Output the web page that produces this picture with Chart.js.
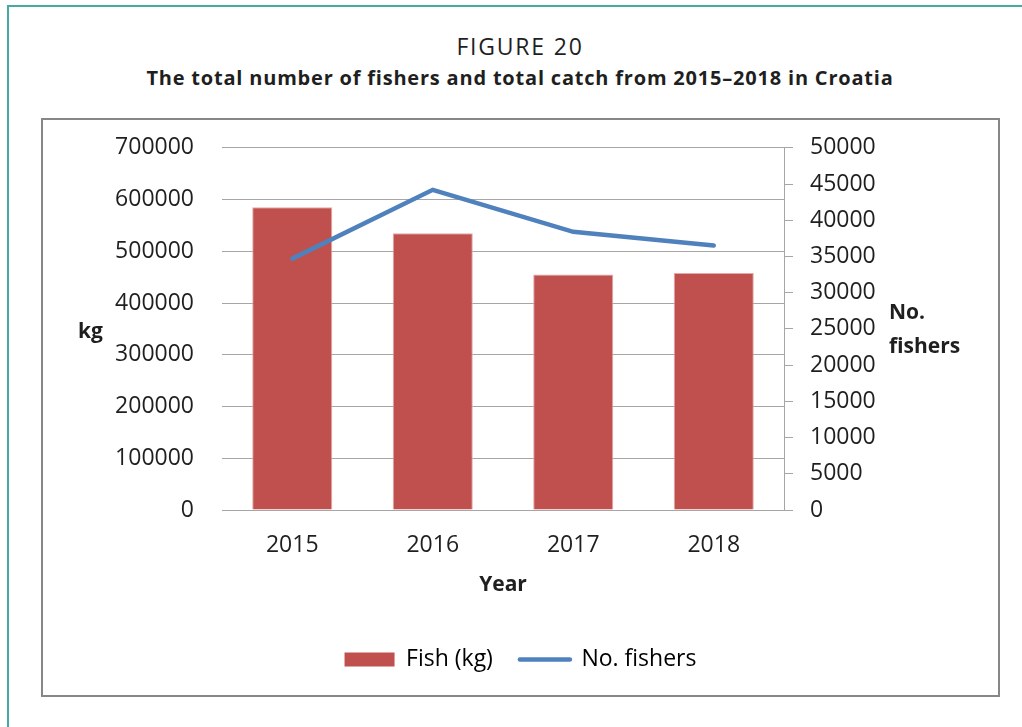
<!DOCTYPE html>
<html>
<head>
<meta charset="utf-8">
<script src="https://cdn.jsdelivr.net/npm/chart.js@4.4.1/dist/chart.umd.min.js"></script>
<style>
  html, body { margin: 0; padding: 0; background: #fff; }
  body { width: 1022px; height: 727px; position: relative; overflow: hidden; font-family: "Open Sans", sans-serif; color: #1f1f1f; }
  #frame { position: absolute; left: 7px; top: 5px; width: 1030px; height: 740px; border: 2px solid #47a9a3; box-sizing: border-box; }
  #fig { position: absolute; left: 20px; width: 1000px; top: 31px; text-align: center; font-size: 23px; letter-spacing: 1.8px; line-height: 30px; }
  #sub { position: absolute; left: 20px; width: 1000px; top: 63px; text-align: center; font-size: 20px; font-weight: bold; letter-spacing: 0.8px; line-height: 30px; }
  #box { position: absolute; left: 41px; top: 118px; width: 959px; height: 579px; border: 2px solid #878787; box-sizing: border-box; }
  #wrap { position: absolute; left: 43px; top: 117px; width: 955px; height: 578px; }
</style>
</head>
<body>
<div id="frame"></div>
<div id="fig">FIGURE 20</div>
<div id="sub">The total number of fishers and total catch from 2015–2018 in Croatia</div>
<div id="box"></div>
<div id="wrap"><canvas id="chart" width="955" height="578"></canvas></div>
<script>
const years    = ["2015", "2016", "2017", "2018"];
const fishKg   = [585000, 535000, 455000, 458000];
const fishers  = [34700, 44200, 38400, 36500];

const RED  = "#C0504D";
const BLUE = "#4F81BD";
const GRID = "#a6a6a6";
const TEXT = "#1f1f1f";
const FONT = "'Open Sans', sans-serif";

// horizontal axis titles ("kg", "No. fishers") next to the y axes
const sideTitles = {
  id: "sideTitles",
  afterDraw(chart) {
    const { ctx } = chart;
    ctx.save();
    ctx.fillStyle = TEXT;
    ctx.font = "bold 21px " + FONT;
    ctx.textBaseline = "middle";
    ctx.textAlign = "left";
    ctx.fillText("kg", 35, 215);
    ctx.fillText("No.", 846, 196);
    ctx.fillText("fishers", 846, 230);
    ctx.restore();
  },
};

const plain = v => String(v);

new Chart(document.getElementById("chart"), {
  type: "bar",
  data: {
    labels: years,
    datasets: [
      {
        type: "line",
        label: "No. fishers",
        data: fishers,
        yAxisID: "y1",
        borderColor: BLUE,
        backgroundColor: BLUE,
        borderWidth: 4.5,
        borderCapStyle: "round",
        pointRadius: 0,
        tension: 0,
        order: 0,
      },
      {
        label: "Fish (kg)",
        data: fishKg,
        yAxisID: "y",
        backgroundColor: RED,
        borderColor: "#e3a9a8",
        borderWidth: 1,
        barPercentage: 0.57,
        categoryPercentage: 1.0,
        order: 1,
      },
    ],
  },
  options: {
    responsive: false,
    animation: false,
    layout: { padding: { top: 28, bottom: 14, left: 0, right: 0 } },
    scales: {
      x: {
        grid: { display: false },
        border: { display: false },
        ticks: { color: TEXT, font: { family: FONT, size: 23 }, padding: 14 },
        title: { display: true, text: "Year", color: TEXT, font: { family: FONT, size: 21, weight: "bold" }, padding: { top: 0, bottom: 23 } },
        afterFit(s) { s.height = 111; },
      },
      y: {
        position: "left",
        min: 0, max: 700000,
        ticks: { stepSize: 100000, color: TEXT, font: { family: FONT, size: 23 }, padding: 0, callback: plain },
        grid: { color: GRID, drawTicks: true, tickLength: 28, tickColor: "rgba(0,0,0,0)" },
        border: { display: false },
        afterFit(s) { s.width = 179; },
      },
      y1: {
        position: "right",
        min: 0, max: 50000,
        ticks: { stepSize: 5000, color: TEXT, font: { family: FONT, size: 23 }, padding: 17, callback: plain },
        grid: { drawOnChartArea: false, drawTicks: true, tickLength: 9, color: GRID },
        border: { display: true, color: GRID },
        afterFit(s) { s.width = 214; },
      },
    },
    plugins: {
      tooltip: { enabled: false },
      legend: {
        position: "bottom",
        labels: {
          color: TEXT,
          font: { family: FONT, size: 23 },
          padding: 27,
          usePointStyle: true,
          pointStyleWidth: 50,
          boxHeight: 14,
          generateLabels: () => [
            { text: "Fish (kg)", fillStyle: RED, strokeStyle: RED, lineWidth: 0, pointStyle: "rect", datasetIndex: 1, hidden: false },
            { text: "No. fishers", fillStyle: BLUE, strokeStyle: BLUE, lineWidth: 4.5, lineCap: "round", pointStyle: "line", datasetIndex: 0, hidden: false },
          ],
        },
      },
    },
  },
  plugins: [sideTitles],
});
</script>
</body>
</html>
